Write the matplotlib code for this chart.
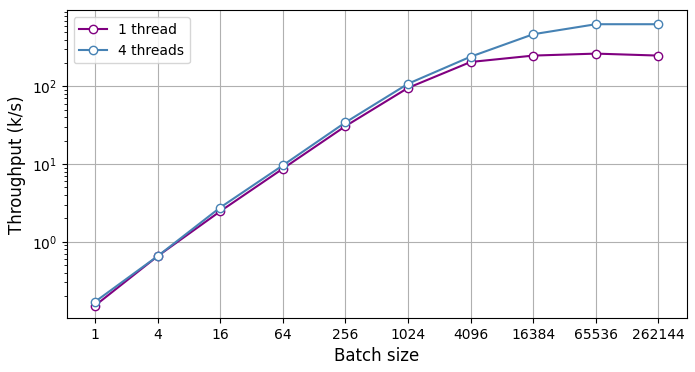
import matplotlib
matplotlib.use("Agg")
import matplotlib.pyplot as plt

# Batch sizes and measured throughput (k/s)
batch_sizes = [1, 4, 16, 64, 256, 1024, 4096, 16384, 65536, 262144]
one_thread = [0.15, 0.65, 2.46, 8.7, 30.7, 95.5, 206, 249, 264, 249]
four_threads = [0.168, 0.65, 2.75, 9.6, 34.3, 108, 241, 469, 631, 631]

fig, ax = plt.subplots(figsize=(6.95, 3.72), dpi=100)

ax.plot(batch_sizes, one_thread, marker='o', color='purple',
        markerfacecolor='white', label='1 thread')
ax.plot(batch_sizes, four_threads, marker='o', color='steelblue',
        markerfacecolor='white', label='4 threads')

ax.set_xscale('log', base=2)
ax.set_yscale('log')
ax.set_xticks(batch_sizes)
ax.set_xticklabels([str(b) for b in batch_sizes])
ax.minorticks_off()
ax.yaxis.set_minor_locator(matplotlib.ticker.LogLocator(base=10, subs='auto'))
ax.yaxis.set_minor_formatter(matplotlib.ticker.NullFormatter())
ax.set_ylim(0.104, 950)

ax.set_xlabel('Batch size', fontsize=12)
ax.set_ylabel('Throughput (k/s)', fontsize=12)
ax.grid(True, which='major')
ax.legend(loc='upper left')

fig.subplots_adjust(left=0.096, right=0.988, top=0.972, bottom=0.145)
fig.savefig('out.png')
